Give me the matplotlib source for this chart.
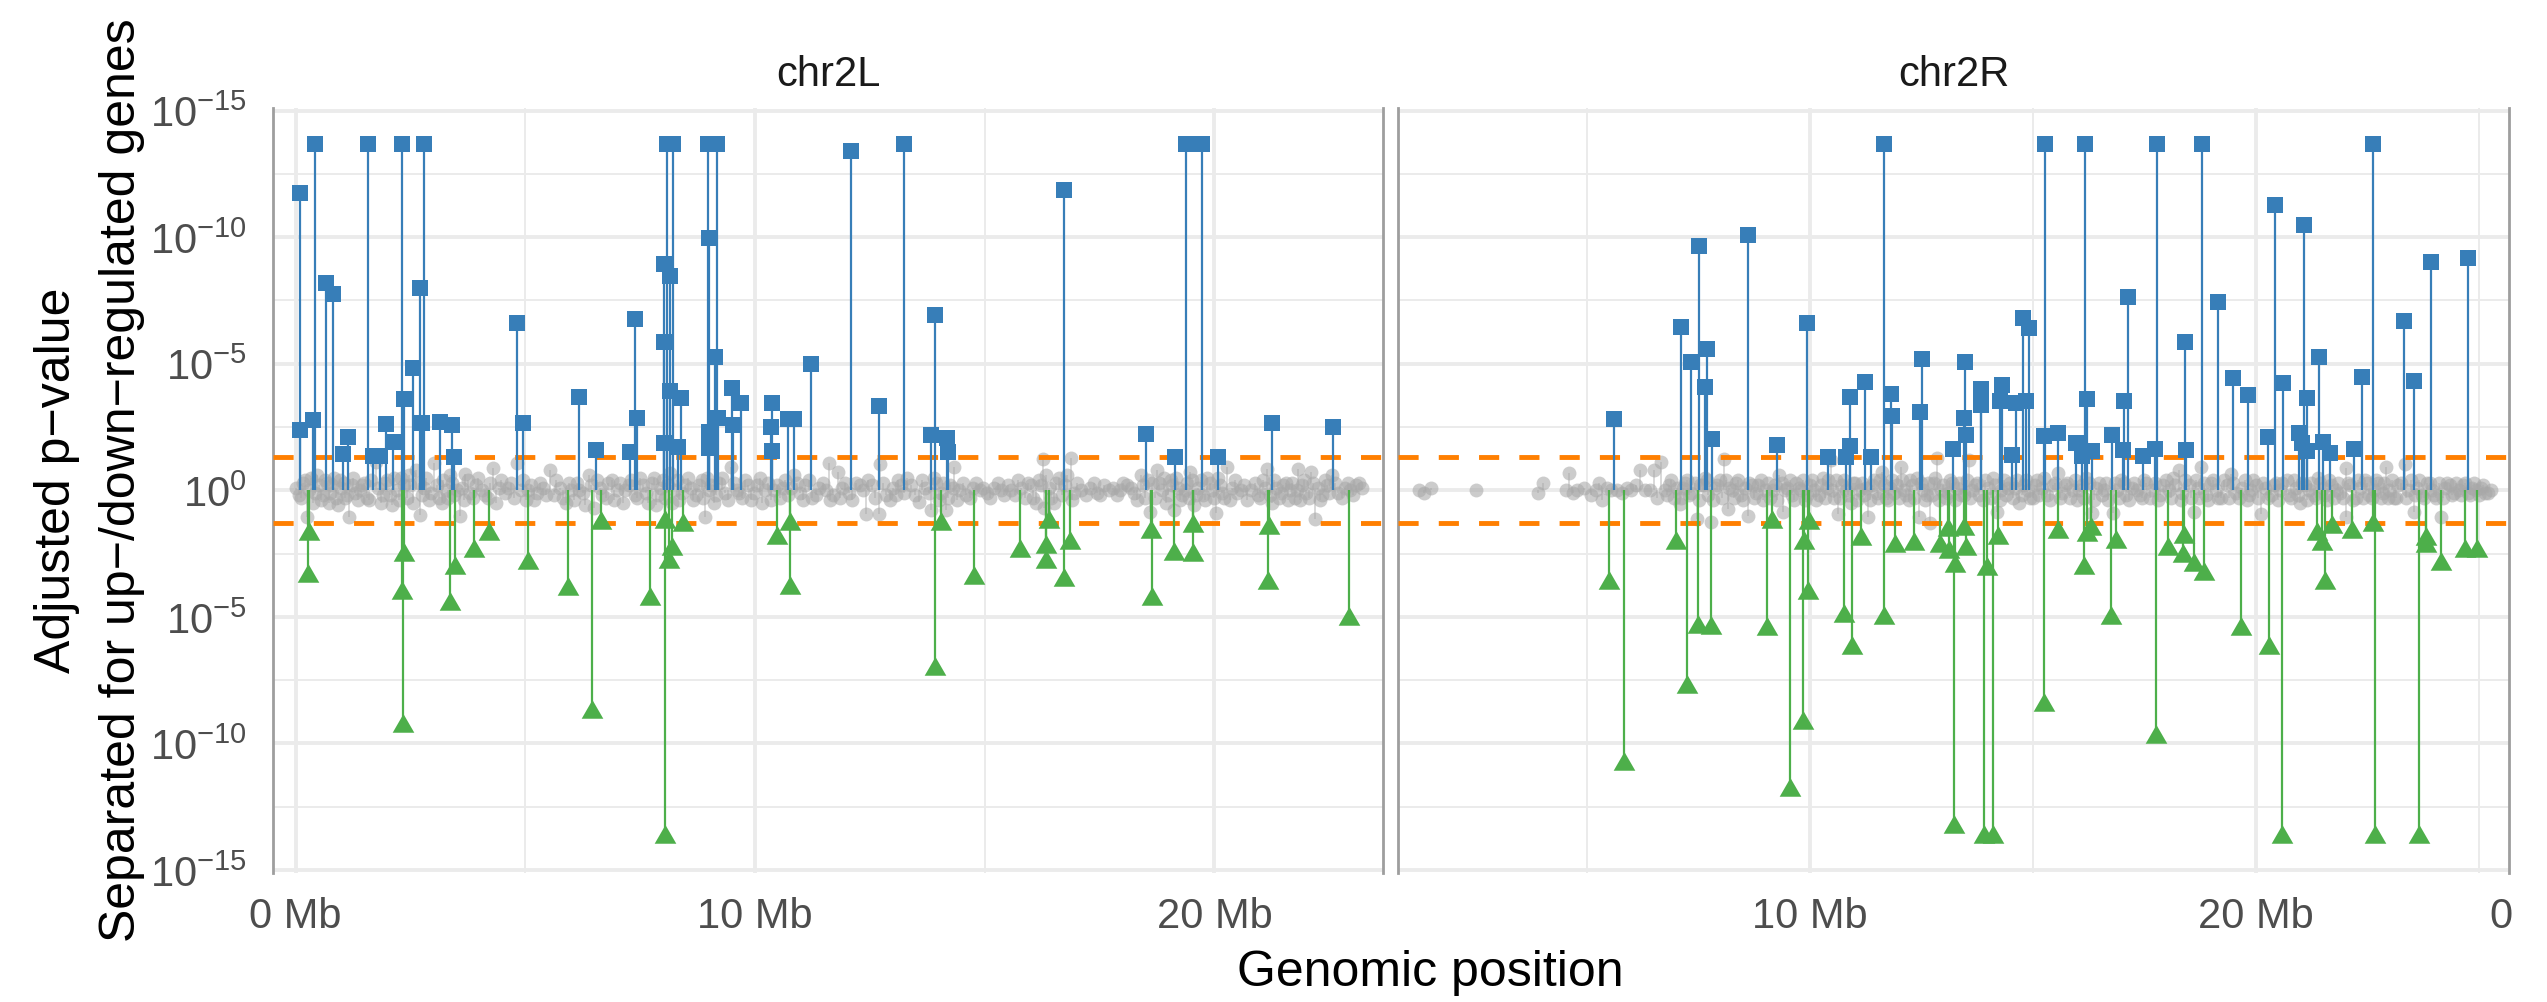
import matplotlib
matplotlib.use("Agg")
import matplotlib.pyplot as plt
import numpy as np

plt.rcParams["font.family"] = ["Liberation Sans", "DejaVu Sans"]
plt.rcParams["mathtext.fontset"] = "custom"
plt.rcParams["mathtext.rm"] = "Liberation Sans"
plt.rcParams["lines.scale_dashes"] = False

# signed -log10(adjusted p): up-regulated > 0, down-regulated < 0
# (x in Mb, value)
chr2L_up = [
    (0.10, 11.74), (0.09, 2.39), (0.43, 13.68), (0.39, 2.79), (0.67, 8.18), (0.81, 7.75),
    (1.04, 1.44), (1.15, 2.09), (1.58, 13.68), (1.69, 1.36), (1.84, 1.36), (1.98, 2.63),
    (2.12, 1.90), (2.32, 13.68), (2.37, 3.62), (2.56, 4.84), (2.71, 7.98), (2.80, 13.68),
    (2.75, 2.67), (3.15, 2.71), (3.41, 2.59), (3.45, 1.30), (4.81, 6.62), (4.96, 2.67),
    (6.18, 3.70), (6.55, 1.60), (7.28, 1.52), (7.40, 6.78), (7.44, 2.87), (8.01, 8.93),
    (8.01, 5.87), (8.01, 1.88), (8.08, 13.68), (8.22, 13.68), (8.16, 8.46), (8.16, 3.93),
    (8.40, 3.66), (8.32, 1.72), (8.98, 13.68), (9.17, 13.68), (9.00, 9.96), (9.14, 5.26),
    (9.00, 2.31), (9.00, 1.68), (9.20, 2.87), (9.49, 4.03), (9.70, 3.46), (9.53, 2.59),
    (10.38, 3.46), (10.36, 2.51), (10.38, 1.56), (10.71, 2.81), (10.86, 2.81), (11.23, 4.98),
    (12.10, 13.40), (13.25, 13.68), (12.69, 3.34), (13.92, 6.94), (13.84, 2.19), (14.18, 2.06),
    (14.21, 1.50), (16.72, 11.86), (18.51, 2.23), (19.15, 1.30), (19.39, 13.68), (19.74, 13.68),
    (20.08, 1.30), (21.26, 2.67), (22.58, 2.51),
]
chr2L_down = [
    (0.30, -1.74), (0.27, -3.38), (2.36, -2.57), (2.32, -4.07), (2.35, -9.31), (3.47, -3.08),
    (3.36, -4.51), (3.88, -2.41), (4.22, -1.74), (5.05, -2.89), (5.94, -3.91), (6.45, -8.75),
    (6.65, -1.30), (7.72, -4.31), (8.05, -1.26), (8.20, -2.33), (8.13, -2.83), (8.05, -13.7),
    (8.43, -1.38), (10.48, -1.90), (10.76, -1.32), (10.76, -3.85), (14.05, -1.34), (13.91, -7.08),
    (14.76, -3.48), (15.76, -2.41), (16.34, -2.25), (16.34, -2.85), (16.41, -1.26), (16.72, -3.56),
    (16.85, -2.08), (18.61, -1.64), (18.64, -4.31), (19.12, -2.53), (19.53, -1.40), (19.53, -2.57),
    (21.18, -1.48), (21.17, -3.66), (22.93, -5.10),
]
chr2L_ns = [
    (0.02, 0.1), (0.12, -0.3), (0.2, 0.4), (0.24, -1.05), (0.3, 0.0), (0.38, -0.5), (0.46, 0.6),
    (0.52, 0.2), (0.6, -0.2), (0.68, 0.3), (0.76, -0.1), (0.84, 0.5), (0.92, -0.6), (1.0, 0.1),
    (1.08, -0.3), (1.16, -1.05), (1.22, 0.2), (1.3, -0.1), (1.4, 0.0), (1.5, 0.3), (1.6, -0.4),
    (1.75, 1.1), (1.8, 0.1), (1.9, -0.2), (2.0, 0.4), (2.1, -0.6), (2.2, 0.0), (2.3, 0.5),
    (2.42, -0.3), (2.5, 0.2), (2.62, 0.8), (2.72, -0.99), (2.8, 0.1), (2.9, -0.4), (3.02, 1.09),
    (3.08, 0.2), (3.18, -0.5), (3.28, 0.0), (3.36, 0.6), (3.46, -0.2), (3.57, -1.03), (3.62, 0.1),
    (3.69, 0.63), (3.8, -0.1), (3.92, 0.2), (4.05, 0.0), (4.18, -0.3), (4.3, 0.87), (4.42, 0.1),
    (4.55, -0.1), (4.68, 0.3), (4.81, 1.07), (4.9, 0.0), (5.02, -0.4), (5.12, 0.2), (5.25, -0.1),
    (5.38, 0.1), (5.53, 0.79), (5.62, -0.2), (5.75, 0.1), (5.88, -0.5), (6.0, 0.0), (6.12, 0.3),
    (6.25, -0.1), (6.38, 0.6), (6.5, -0.7), (6.62, 0.1), (6.75, -0.3), (6.88, 0.4), (7.0, 0.0),
    (7.12, -0.5), (7.25, 0.2), (7.38, -0.2), (7.5, 0.5), (7.62, -0.1), (7.75, 0.3), (7.85, -0.6),
    (7.95, 0.1), (8.05, -0.3), (8.15, 0.7), (8.25, 0.0), (8.35, -0.4), (8.48, 0.2), (8.6, 0.1),
    (8.72, -0.2), (8.85, 0.4), (8.92, -1.05), (9.0, 0.0), (9.1, -0.5), (9.22, 0.3), (9.35, -0.1),
    (9.48, 0.9), (9.6, 0.0), (9.72, -0.3), (9.85, 0.2), (9.98, -0.1), (10.1, 0.5), (10.22, 0.0),
    (10.35, -0.4), (10.48, 0.2), (10.6, 0.1), (10.72, -0.2), (10.85, 0.6), (10.98, -0.1), (11.1, 0.2),
    (11.25, -0.3), (11.4, 0.1), (11.55, 0.0), (11.61, 1.09), (11.7, -0.2), (11.8, 0.73), (11.9, 0.1),
    (12.05, -0.1), (12.2, 0.3), (12.35, 0.0), (12.42, -0.95), (12.55, 0.2), (12.69, -0.95),
    (12.73, 1.03), (12.85, -0.2), (13.0, 0.1), (13.12, 0.4), (13.25, -0.1), (13.4, 0.2),
    (13.58, -0.45), (13.7, 0.1), (13.84, -0.79), (13.95, 0.3), (14.05, -0.1), (14.16, -0.79),
    (14.25, 0.2), (14.34, 0.91), (14.45, 0.0), (14.6, -0.2), (14.75, 0.1), (14.9, 0.0), (15.05, -0.1),
    (15.2, 0.1), (15.35, 0.0), (15.5, 0.2), (15.65, -0.2), (15.8, 0.1), (15.95, 0.3), (16.05, -0.3),
    (16.18, 0.4), (16.28, 1.23), (16.29, -0.71), (16.4, 0.1), (16.5, -0.5), (16.62, 0.5), (16.75, 0.2),
    (16.88, 1.26), (16.95, -0.1), (17.1, 0.0), (17.3, 0.1), (17.45, -0.1), (17.6, 0.2), (17.8, 0.1),
    (17.95, 0.0), (18.1, 0.2), (18.25, -0.1), (18.4, 0.6), (18.5, -0.3), (18.59, -0.85), (18.65, 0.3),
    (18.75, 0.8), (18.85, 0.0), (18.95, -0.5), (19.05, 0.4), (19.12, -0.79), (19.2, 0.1), (19.3, -0.2),
    (19.4, 0.3), (19.48, 0.73), (19.55, -0.6), (19.65, 0.1), (19.75, -0.2), (19.85, 0.5), (19.95, 0.0),
    (20.04, -0.91), (20.12, 0.2), (20.22, -0.3), (20.28, 0.93), (20.38, 0.1), (20.5, -0.1), (20.65, 0.2),
    (20.8, 0.0), (20.95, -0.2), (21.05, 0.4), (21.15, 0.83), (21.25, -0.5), (21.35, 0.1), (21.45, -0.1),
    (21.55, 0.3), (21.65, 0.0), (21.75, -0.3), (21.83, 0.83), (21.9, 0.2), (22.0, -0.1), (22.1, 0.73),
    (22.19, -1.15), (22.25, 0.1), (22.35, -0.2), (22.45, 0.2), (22.55, 0.6), (22.7, -0.1), (22.85, 0.1),
    (22.95, 0.0), (23.08, 0.2), (23.22, 0.1),
    (0.07, -0.2), (0.17, 0.3), (0.33, 0.5), (0.42, -0.1), (0.56, -0.4), (0.64, 0.4), (0.72, -0.5),
    (0.8, 0.2), (0.88, -0.3), (0.97, 0.4), (1.05, 0.3), (1.13, -0.2), (1.26, 0.5), (1.35, -0.4),
    (1.45, 0.2), (1.55, -0.3), (1.65, 0.4), (1.85, -0.5), (1.95, 0.3), (2.05, -0.2), (2.15, 0.5),
    (2.25, -0.4), (2.36, 0.2), (2.46, 0.6), (2.56, -0.5), (2.68, 0.3), (2.76, -0.2), (2.85, 0.5),
    (2.95, -0.1), (3.12, -0.3), (3.22, 0.4), (3.32, -0.3), (3.41, 0.3), (3.52, 0.0), (3.66, -0.4),
    (3.75, 0.4), (3.86, -0.3), (3.98, 0.5), (4.12, -0.2), (4.24, 0.3), (4.36, -0.5), (4.48, 0.4),
    (4.62, 0.1), (4.75, -0.3), (4.95, 0.4), (5.07, 0.0), (5.18, -0.4), (5.32, 0.3), (5.45, -0.2),
    (5.68, 0.4), (5.82, -0.3), (5.95, 0.3), (6.06, -0.4), (6.18, 0.0), (6.31, -0.6), (6.44, 0.2),
    (6.56, 0.4), (6.68, -0.2), (6.81, 0.3), (6.94, -0.4), (7.06, 0.3), (7.18, 0.0), (7.31, 0.4),
    (7.44, -0.3), (7.56, 0.2), (7.68, -0.5), (7.8, 0.5), (7.9, -0.2), (8.0, 0.4), (8.1, 0.2),
    (8.2, -0.5), (8.3, 0.4), (8.42, -0.1), (8.54, 0.5), (8.66, -0.4), (8.78, 0.2), (8.88, -0.3),
    (8.96, 0.5), (9.05, 0.2), (9.16, -0.2), (9.28, 0.5), (9.41, -0.4), (9.54, 0.3), (9.66, -0.1),
    (9.78, 0.4), (9.92, -0.4), (10.04, 0.2), (10.16, -0.5), (10.28, 0.3), (10.42, 0.0), (10.54, -0.3),
    (10.66, 0.4), (10.78, 0.1), (10.92, 0.3), (11.04, -0.4), (11.18, 0.4), (11.32, -0.2), (11.48, 0.3),
    (11.64, -0.4), (11.85, -0.3), (11.97, 0.3), (12.12, -0.4), (12.28, 0.2), (12.45, 0.4), (12.62, -0.3),
    (12.78, 0.3), (12.93, -0.4), (13.06, -0.2), (13.18, 0.2), (13.32, 0.5), (13.48, -0.2), (13.64, 0.4),
    (13.78, -0.1), (13.9, 0.5), (14.0, -0.4), (14.1, 0.3), (14.2, -0.3), (14.3, 0.1), (14.4, -0.4),
    (14.52, 0.3), (14.68, -0.3), (14.82, 0.3), (14.97, 0.1), (15.12, -0.3), (15.28, 0.3), (15.42, -0.2),
    (15.58, 0.0), (15.72, 0.4), (15.88, -0.3), (16.0, 0.2), (16.12, -0.5), (16.22, 0.2), (16.34, 0.6),
    (16.45, -0.3), (16.56, 0.3), (16.68, -0.2), (16.8, 0.6), (16.9, -0.4), (17.02, 0.3), (17.2, -0.2),
    (17.38, 0.3), (17.52, -0.2), (17.7, 0.0), (17.88, -0.2), (18.02, 0.3), (18.18, 0.1), (18.32, -0.4),
    (18.45, 0.2), (18.55, 0.4), (18.7, -0.3), (18.8, 0.3), (18.9, 0.5), (19.0, -0.2), (19.08, 0.2),
    (19.16, 0.5), (19.25, -0.4), (19.35, 0.0), (19.44, -0.3), (19.52, 0.4), (19.6, -0.2), (19.7, 0.4),
    (19.8, -0.4), (19.9, 0.3), (20.0, -0.3), (20.08, 0.5), (20.17, -0.1), (20.33, -0.4), (20.44, 0.4),
    (20.57, 0.0), (20.72, -0.4), (20.88, 0.3), (21.0, -0.3), (21.1, 0.1), (21.2, -0.2), (21.3, 0.4),
    (21.4, -0.3), (21.5, 0.2), (21.6, -0.4), (21.7, 0.3), (21.79, 0.0), (21.87, -0.4), (21.95, 0.4),
    (22.05, -0.3), (22.15, 0.3), (22.3, -0.4), (22.4, 0.4), (22.5, -0.1), (22.62, 0.3), (22.78, -0.3),
    (22.9, 0.3), (23.02, -0.2), (23.15, 0.3),
]

chr2R_up = [
    (5.61, 2.83), (7.11, 6.46), (7.35, 5.08), (7.52, 9.64), (7.69, 5.59), (7.66, 4.09), (7.80, 2.04),
    (8.62, 10.08), (9.27, 1.80), (9.93, 6.62), (10.41, 1.30), (10.90, 3.70), (10.81, 1.30), (10.90, 1.74),
    (11.24, 4.29), (11.38, 1.30), (11.66, 13.68), (11.82, 3.81), (11.85, 2.94), (12.52, 5.20),
    (12.47, 3.10), (13.21, 1.62), (13.49, 5.08), (13.47, 2.87), (13.51, 2.19), (13.85, 4.01),
    (13.85, 3.38), (14.32, 4.15), (14.27, 3.54), (14.53, 1.40), (14.63, 3.46), (14.79, 6.82),
    (14.92, 6.42), (14.86, 3.52), (15.28, 13.68), (15.25, 2.13), (15.57, 2.27), (15.98, 1.86),
    (16.17, 13.68), (16.22, 3.62), (16.11, 1.36), (16.33, 1.56), (16.78, 2.19), (17.14, 7.63),
    (17.05, 3.52), (17.03, 1.60), (17.47, 1.36), (17.79, 13.68), (17.75, 1.64), (18.42, 5.87),
    (18.44, 1.60), (18.80, 13.68), (19.15, 7.43), (19.49, 4.43), (19.83, 3.77), (20.28, 2.11),
    (20.43, 11.28), (20.62, 4.25), (21.08, 10.47), (21.15, 3.66), (20.98, 2.27), (21.03, 1.86),
    (21.15, 1.56), (21.42, 5.26), (21.51, 1.90), (21.67, 1.48), (22.21, 1.64), (22.39, 4.49),
    (22.62, 13.68), (23.33, 6.70), (23.55, 4.33), (23.93, 9.01), (24.77, 9.17),
]
chr2R_down = [
    (5.51, -3.68), (5.83, -10.83), (7.01, -2.09), (7.25, -7.77), (7.50, -5.42), (7.79, -5.45),
    (9.04, -5.49), (9.15, -1.25), (9.55, -11.84), (9.87, -2.09), (9.86, -9.19), (9.97, -4.07),
    (9.98, -1.28), (10.77, -4.98), (10.95, -6.23), (11.15, -1.94), (11.67, -5.04), (11.91, -2.19),
    (12.35, -2.13), (12.92, -2.19), (13.11, -1.58), (13.13, -2.43), (13.26, -2.98), (13.23, -13.3),
    (13.45, -1.54), (13.51, -2.33), (13.92, -13.7), (14.10, -13.7), (13.98, -3.12), (14.23, -1.90),
    (15.25, -8.50), (15.57, -1.66), (16.15, -3.06), (16.21, -1.78), (16.30, -1.54), (16.76, -5.06),
    (16.86, -2.04), (17.76, -9.76), (18.04, -2.31), (18.38, -2.61), (18.40, -1.86), (18.61, -2.96),
    (18.84, -3.32), (19.68, -5.49), (20.30, -6.25), (20.60, -13.7), (21.38, -1.74), (21.48, -2.13),
    (21.56, -3.66), (21.71, -1.44), (22.16, -1.66), (22.62, -1.38), (22.67, -13.7), (23.66, -13.7),
    (23.83, -1.94), (23.83, -2.19), (24.16, -2.92), (24.70, -2.39), (24.96, -2.39),
]
chr2R_ns = [
    (1.23, 0.0), (1.35, -0.1), (1.52, 0.1), (2.51, 0.0), (3.91, -0.1), (4.03, 0.3), (4.53, 0.0),
    (4.61, 0.7), (4.7, -0.1), (4.78, 0.0), (4.95, 0.1), (5.1, -0.2), (5.2, 0.0), (5.27, 0.3),
    (5.35, -0.4), (5.45, 0.1), (5.55, 0.0), (5.68, 0.0), (5.8, -0.1), (5.9, 0.1), (6.0, 0.0),
    (6.1, 0.2), (6.2, 0.8), (6.3, 0.0), (6.42, 0.0), (6.5, 0.8), (6.58, -0.3), (6.67, 1.1), (6.75, 0.0),
    (6.85, 0.2), (6.95, -0.3), (7.09, -0.55), (7.15, 0.1), (7.25, 0.4), (7.35, -0.1), (7.48, -1.15),
    (7.55, 0.2), (7.65, 0.5), (7.72, -0.2), (7.79, -1.25), (7.88, 0.1), (7.98, 0.4), (8.08, 1.25),
    (8.16, -0.75), (8.25, 0.0), (8.35, 0.3), (8.45, -0.2), (8.55, 0.1), (8.61, -1.0), (8.7, 0.2),
    (8.8, -0.1), (8.9, 0.4), (9.0, 0.0), (9.12, -0.3), (9.22, 0.2), (9.32, 0.6), (9.4, -0.85),
    (9.5, 0.1), (9.6, -0.2), (9.7, 0.3), (9.8, 0.0), (9.9, -0.4), (10.0, 0.2), (10.1, 0.0),
    (10.2, -0.2), (10.3, 0.5), (10.38, 0.1), (10.47, 1.2), (10.55, -0.3), (10.64, -0.95), (10.72, 0.2),
    (10.82, 0.0), (10.92, -0.5), (11.02, 0.3), (11.12, 0.0), (11.22, -0.2), (11.3, -1.05), (11.4, 0.2),
    (11.5, -0.1), (11.58, 0.4), (11.63, 0.73), (11.72, -0.3), (11.8, 0.1), (11.9, -0.1), (12.04, 0.93),
    (12.12, 0.0), (12.22, -0.4), (12.3, 0.2), (12.4, 0.5), (12.45, -1.05), (12.55, 0.0), (12.62, -0.2),
    (12.7, -1.3), (12.78, 0.3), (12.86, 1.28), (12.95, 0.0), (13.05, -0.3), (13.15, 0.4), (13.3, 0.1),
    (13.4, -0.2), (13.58, 1.2), (13.65, 0.0), (13.75, 0.3), (13.88, -0.4), (14.0, 0.1), (14.12, 0.5),
    (14.21, -0.85), (14.3, 0.0), (14.4, -0.2), (14.5, 0.3), (14.6, 0.1), (14.7, -0.5), (14.8, 0.2),
    (14.9, 0.0), (15.0, -0.3), (15.1, 0.4), (15.2, 0.1), (15.32, -0.2), (15.45, 0.2), (15.57, 0.67),
    (15.65, -0.1), (15.78, 0.3), (15.9, 0.0), (16.0, -0.4), (16.1, 0.2), (16.2, 0.5), (16.33, -0.91),
    (16.42, 0.1), (16.55, -0.2), (16.65, 0.3), (16.79, -0.91), (16.88, 0.0), (16.98, 0.4), (17.1, -0.2),
    (17.22, 0.1), (17.35, 0.0), (17.45, -0.3), (17.55, 0.3), (17.68, 0.0), (17.8, -0.4), (17.92, 0.2),
    (18.05, 0.0), (18.15, 0.5), (18.27, 0.79), (18.35, -0.1), (18.5, 0.2), (18.61, -0.85), (18.7, 0.1),
    (18.78, 0.93), (18.88, -0.2), (19.0, 0.3), (19.1, 0.0), (19.22, -0.3), (19.35, 0.2), (19.45, 0.63),
    (19.55, -0.1), (19.7, 0.1), (19.8, -0.4), (19.9, 0.0), (20.0, 0.2), (20.13, -0.95), (20.2, 0.1),
    (20.35, -0.2), (20.45, 0.3), (20.55, 0.0), (20.7, 0.4), (20.8, -0.3), (20.9, 0.1), (21.0, -0.5),
    (21.1, 0.2), (21.2, 0.0), (21.3, -0.2), (21.4, 0.5), (21.5, 0.1), (21.6, -0.4), (21.7, 0.2),
    (21.8, 0.0), (21.9, -0.1), (22.03, 0.87), (22.03, -1.05), (22.12, 0.2), (22.25, -0.3), (22.35, 0.1),
    (22.45, 0.4), (22.55, -0.2), (22.65, 0.0), (22.75, 0.3), (22.85, -0.1), (22.92, 0.93), (23.0, 0.0),
    (23.1, -0.3), (23.2, 0.2), (23.34, 1.03), (23.42, 0.0), (23.55, -0.85), (23.62, 0.1), (23.72, -0.2),
    (23.85, 0.3), (23.95, 0.0), (24.05, -0.3), (24.15, -1.05), (24.25, 0.1), (24.35, 0.2), (24.45, -0.1),
    (24.55, 0.0), (24.65, 0.2), (24.75, -0.1), (24.85, 0.1), (24.95, 0.0), (25.05, 0.1), (25.15, -0.1),
    (25.28, 0.0),
    (6.8, -0.2), (6.9, 0.4), (7.02, 0.1), (7.12, -0.3), (7.2, 0.3), (7.3, -0.2), (7.42, 0.3),
    (7.52, -0.4), (7.6, 0.2), (7.7, 0.4), (7.84, -0.4), (7.93, 0.2), (8.03, -0.3), (8.12, 0.4),
    (8.2, 0.1), (8.3, -0.3), (8.4, 0.4), (8.5, -0.4), (8.65, 0.3), (8.75, -0.3), (8.85, 0.2),
    (8.95, -0.4), (9.06, 0.3), (9.17, 0.0), (9.27, -0.4), (9.37, 0.3), (9.45, 0.0), (9.55, 0.4),
    (9.65, -0.4), (9.75, 0.1), (9.85, 0.4), (9.95, -0.2), (10.05, 0.4), (10.15, -0.4), (10.25, 0.2),
    (10.34, -0.3), (10.42, 0.4), (10.5, 0.0), (10.6, 0.4), (10.68, -0.3), (10.77, 0.4), (10.87, -0.2),
    (10.97, 0.3), (11.07, -0.4), (11.17, 0.3), (11.26, 0.1), (11.35, -0.4), (11.45, 0.4), (11.54, -0.3),
    (11.67, 0.2), (11.76, -0.4), (11.85, 0.4), (11.95, 0.2), (12.0, -0.3), (12.08, 0.4), (12.17, -0.2),
    (12.26, 0.4), (12.35, -0.3), (12.5, 0.3), (12.58, -0.4), (12.66, 0.3), (12.74, -0.2), (12.82, 0.5),
    (12.9, -0.4), (13.0, 0.2), (13.1, -0.1), (13.2, 0.3), (13.25, -0.4), (13.35, 0.3), (13.45, -0.2),
    (13.52, 0.4), (13.6, -0.3), (13.7, 0.2), (13.8, -0.2), (13.94, 0.4), (14.06, -0.3), (14.16, 0.2),
    (14.26, -0.4), (14.35, 0.4), (14.45, 0.1), (14.55, -0.3), (14.65, 0.4), (14.75, -0.2), (14.85, 0.4),
    (14.95, -0.3), (15.05, 0.2), (15.15, -0.2), (15.26, 0.5), (15.38, -0.4), (15.5, 0.3), (15.62, -0.3),
    (15.72, 0.2), (15.84, -0.3), (15.95, 0.4), (16.05, 0.0), (16.15, -0.3), (16.26, 0.3), (16.38, -0.4),
    (16.48, 0.3), (16.6, 0.0), (16.7, -0.4), (16.84, 0.3), (16.93, -0.3), (17.04, 0.3), (17.16, -0.4),
    (17.28, 0.3), (17.4, -0.2), (17.5, 0.4), (17.62, -0.3), (17.74, 0.3), (17.86, -0.2), (17.98, 0.4),
    (18.1, -0.3), (18.2, 0.2), (18.32, -0.4), (18.42, 0.4), (18.56, -0.3), (18.66, 0.4), (18.74, -0.3),
    (18.84, 0.3), (18.94, -0.4), (19.05, 0.4), (19.16, -0.3), (19.28, 0.4), (19.4, -0.3), (19.5, 0.3),
    (19.62, -0.3), (19.75, 0.4), (19.85, -0.2), (19.95, 0.4), (20.06, -0.3), (20.17, 0.3), (20.28, -0.3),
    (20.4, 0.2), (20.5, -0.4), (20.6, 0.3), (20.75, -0.2), (20.85, 0.4), (20.95, -0.2), (21.05, 0.3),
    (21.15, -0.4), (21.25, 0.3), (21.35, -0.3), (21.45, 0.3), (21.55, -0.2), (21.65, 0.4), (21.75, -0.3),
    (21.85, 0.3), (21.95, -0.3), (22.08, 0.3), (22.18, -0.4), (22.3, 0.4), (22.4, -0.3), (22.5, 0.3),
    (22.6, -0.3), (22.7, 0.4), (22.8, -0.3), (22.88, 0.3), (22.97, -0.3), (23.05, 0.4), (23.15, -0.3),
    (23.26, 0.3), (23.38, -0.3), (23.48, 0.4), (23.58, -0.2), (23.67, 0.4), (23.78, -0.3), (23.9, 0.3),
    (24.0, -0.2), (24.1, 0.3), (24.2, -0.3), (24.3, 0.3), (24.4, -0.2), (24.5, 0.3), (24.6, -0.2),
    (24.7, 0.3), (24.8, -0.2), (24.9, 0.3), (25.0, -0.2), (25.1, 0.2), (25.22, -0.1),
]

threshold = -np.log10(0.05)
y_ticks = [15, 10, 5, 0, -5, -10, -15]
y_labels = [r"$10^{-15}$", r"$10^{-10}$", r"$10^{-5}$", r"$10^{0}$",
            r"$10^{-5}$", r"$10^{-10}$", r"$10^{-15}$"]

chr2L_ticks = [0, 10, 20]
chr2L_ticklabels = ["0 Mb", "10 Mb", "20 Mb"]
chr2R_ticks = [10, 20, 25.5]
chr2R_ticklabels = ["10 Mb", "20 Mb", "0"]

BLUE = "#377EB8"
GREEN = "#4DAF4A"
ORANGE = "#FF7F00"
GRID = "#EBEBEB"

tri = [(0, 1.155), (-1, -0.577), (1, -0.577)]

W, H = 2547, 1003
fig = plt.figure(figsize=(W / 100, H / 100), dpi=100)
bottom = 1 - 873.5 / H
height = (873.5 - 109) / H
axL = fig.add_axes([273 / W, bottom, 1110 / W, height])
axR = fig.add_axes([1398 / W, bottom, 1111 / W, height])

panels = [
    (axL, "chr2L", chr2L_up, chr2L_down, chr2L_ns, (-0.49, 23.67),
     chr2L_ticks, chr2L_ticklabels, [0, 10, 20], [5, 15]),
    (axR, "chr2R", chr2R_up, chr2R_down, chr2R_ns, (0.77, 25.68),
     chr2R_ticks, chr2R_ticklabels, [10, 20], [5, 15, 25]),
]

for ax, name, up, down, ns, xlim, ticks, ticklabels, xmaj, xmin in panels:
    ax.set_xlim(*xlim)
    ax.set_ylim(-15.1, 15.1)

    # background grid
    for v in [-15, -10, -5, 0, 5, 10, 15]:
        ax.axhline(v, color=GRID, lw=2.8, zorder=0)
    for v in [-12.5, -7.5, -2.5, 2.5, 7.5, 12.5]:
        ax.axhline(v, color=GRID, lw=1.4, zorder=0)
    for v in xmaj:
        ax.axvline(v, color=GRID, lw=2.8, zorder=0)
    for v in xmin:
        ax.axvline(v, color=GRID, lw=1.4, zorder=0)

    nx, ny = np.array(ns).T
    ax.vlines(nx, 0, ny, color="#B5B5B5", alpha=0.6, lw=1.2, zorder=1)
    ax.scatter(nx, ny, s=10.0 ** 2, color="#A8A8A8", alpha=0.58, lw=0, zorder=2)

    for t in (threshold, -threshold):
        ax.axhline(t, color=ORANGE, lw=3.5, dashes=(14.5, 14.5), zorder=3)

    ux, uy = np.array(up).T
    ax.vlines(ux, 0, uy, color=BLUE, lw=1.6, zorder=4)
    ax.scatter(ux, uy, marker="s", s=12.0 ** 2, color=BLUE, lw=0, zorder=5)

    dx, dy = np.array(down).T
    ax.vlines(dx, 0, dy, color=GREEN, lw=1.6, zorder=4)
    ax.scatter(dx, dy, marker=tri, s=18.0 ** 2, color=GREEN, lw=0, zorder=5)

    ax.set_xticks(ticks, ticklabels)
    ax.tick_params(axis="x", length=0, pad=17, labelsize=30, labelcolor="#4D4D4D")
    ax.set_yticks(y_ticks)
    ax.tick_params(axis="y", length=0)
    for s in ("top", "bottom"):
        ax.spines[s].set_visible(False)
    for s in ("left", "right"):
        ax.spines[s].set_color("#9E9E9E")
        ax.spines[s].set_linewidth(2.0)

    pos = ax.get_position()
    fig.text(pos.x0 + pos.width / 2, 1 - 86 / H, name, ha="center", va="baseline",
             fontsize=30, color="#1A1A1A")

axL.set_yticklabels(y_labels)
axL.tick_params(axis="y", pad=19, labelsize=30, labelcolor="#4D4D4D")
axR.set_yticklabels([])

fig.text(57 / W, 1 - 480 / H, "Adjusted p\u2212value", rotation=90,
         ha="center", va="center", fontsize=36)
fig.text(122 / W, 1 - 480 / H, "Separated for up\u2212/down\u2212regulated genes",
         rotation=90, ha="center", va="center", fontsize=36)
fig.text(1430 / W, 1 - 986 / H, "Genomic position", ha="center", va="baseline", fontsize=36)

fig.savefig("out.png", dpi=100)
